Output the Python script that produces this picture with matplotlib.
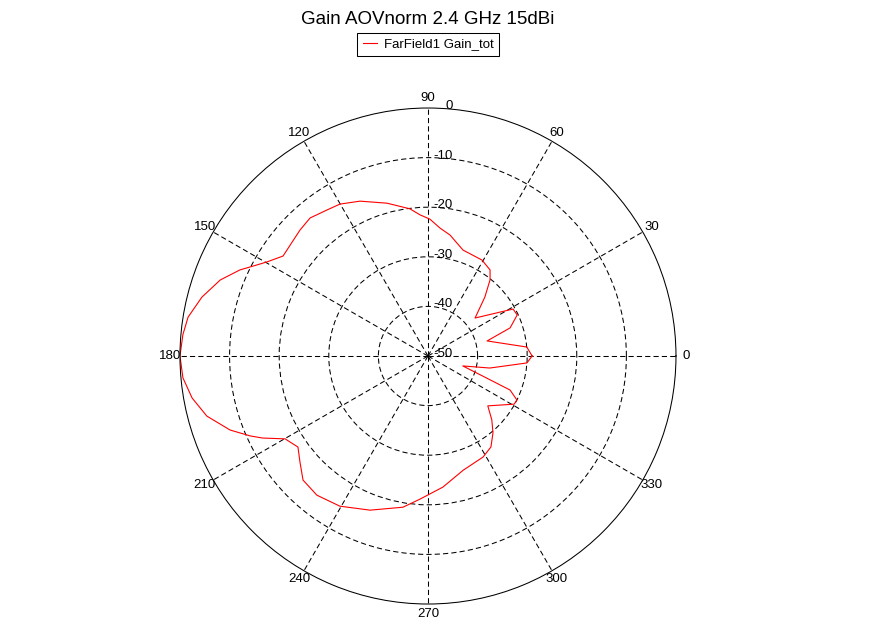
import numpy as np
import matplotlib
matplotlib.use('Agg')
import matplotlib.pyplot as plt
from matplotlib.transforms import offset_copy

# far field cut, angle in degrees, normalised gain in dB
theta_deg = [0, 5.2, 14.3, 18.9, 24.7, 28.9, 38.9, 46.0, 50.8, 54.2,
             60.6, 71.7, 79.7, 84.6, 89.2, 93.2, 97.0, 105.0, 113.7, 120.1,
             124.7, 130.5, 135.5, 145.4, 149.7, 153.4, 155.4, 159.9, 165.4, 170.8,
             175.0, 180.0, 185.1, 190.1, 195.2, 200.5, 204.2, 206.4, 210.1, 215.0,
             219.6, 224.8, 231.4, 239.6, 249.4, 260.6, 266.8, 276.5, 287.1, 298.6,
             304.7, 310.2, 315.0, 320.2, 330.8, 333.7, 337.5, 344.1, 349.0, 356.0]
gain_db = [-29.0, -30.0, -37.7, -32.5, -30.2, -30.4, -37.8, -33.5, -30.2, -28.6,
           -27.8, -27.5, -25.2, -24.1, -22.4, -21.5, -20.1, -18.1, -15.9, -14.6,
           -14.2, -13.4, -13.8, -14.5, -12.4, -9.9, -8.3, -5.4, -2.9, -1.0,
           -0.4, 0.0, -0.4, -1.7, -3.8, -7.4, -10.7, -12.8, -16.7, -18.0,
           -16.5, -14.5, -14.1, -14.9, -16.8, -19.1, -21.1, -23.4, -25.9, -26.8,
           -27.7, -29.7, -31.8, -34.3, -30.1, -30.0, -32.1, -42.7, -37.3, -30.0]

angle_ticks = [0, 30, 60, 90, 120, 150, 180, 210, 240, 270, 300, 330]
ring_ticks = [0, -10, -20, -30, -40, -50]

title = 'Gain AOVnorm 2.4 GHz 15dBi'
series_name = 'FarField1 Gain_tot'

plt.rcParams['font.family'] = ['Liberation Sans', 'DejaVu Sans']

fig = plt.figure(figsize=(8.77, 6.35), dpi=100)
ax = fig.add_axes([0.2052, 0.0488, 0.5656, 0.7811], projection='polar')

# close the curve
th = np.deg2rad(np.array(theta_deg + [theta_deg[0] + 360]))
g = np.array(gain_db + [gain_db[0]])
line, = ax.plot(th, g, color='red', lw=0.8, label=series_name)

ax.set_ylim(-50, 0)
ax.set_xticks(np.deg2rad(angle_ticks))
ax.set_xticklabels([])
ax.set_yticks([-40, -30, -20, -10])
ax.set_yticklabels([])
ax.tick_params(length=0)
ax.grid(True, color='black', linestyle=(0, (5, 3)), linewidth=0.75)
ax.spines['polar'].set_color('black')
ax.spines['polar'].set_linewidth(0.75)

for a in angle_ticks:
    ax.text(np.deg2rad(a), 2.0, str(a), ha='center', va='center',
            fontsize=9.5, clip_on=False)

rtrans = offset_copy(ax.transData, fig=fig, x=25, y=-1, units='dots')
for v in ring_ticks:
    ax.text(np.pi / 2, v, str(v), ha='right', va='baseline', fontsize=9.5,
            transform=rtrans, clip_on=False)

fig.text(428 / 877, 1 - 24 / 635, title, ha='center', va='baseline', fontsize=13.5)

leg = fig.legend(handles=[line], loc='upper center', bbox_to_anchor=(428 / 877, 1 - 33 / 635),
                 fontsize=9.5, frameon=True, fancybox=False, framealpha=1,
                 edgecolor='black', handlelength=1.1, handletextpad=0.5,
                 borderpad=0.4, borderaxespad=0)
leg.get_frame().set_linewidth(0.75)

fig.savefig('out.png', dpi=100)
